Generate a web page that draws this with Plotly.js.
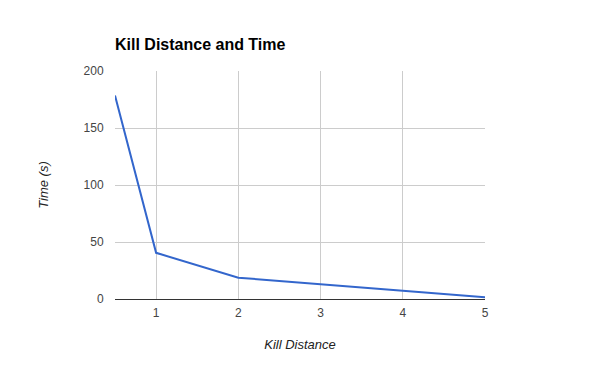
<!DOCTYPE html>
<html>
<head>
<meta charset="utf-8">
<script src="https://cdn.plot.ly/plotly-3.0.1.min.js"></script>
<style>html,body{margin:0;padding:0;background:#fff}#chart{width:600px;height:371px}</style>
</head>
<body>
<div id="chart"></div>
<script>
const killDistance = [0.5, 1, 2, 3, 4, 5];
const timeSeconds = [178.5, 40.5, 18.7, 13.2, 7.3, 1.5];
const xTicks = [1, 2, 3, 4, 5];
const yTicks = [0, 50, 100, 150, 200];

const trace = {
  x: killDistance,
  y: timeSeconds,
  type: 'scatter',
  mode: 'lines',
  line: {color: '#3366CC', width: 2},
  hoverinfo: 'none'
};

const layout = {
  width: 600, height: 371,
  margin: {l: 115, r: 115, t: 71, b: 72},
  paper_bgcolor: '#fff', plot_bgcolor: '#fff',
  showlegend: false,
  font: {family: 'Arial, "Liberation Sans", sans-serif', color: '#444', size: 12},
  title: {
    text: '<b>Kill Distance and Time</b>',
    font: {family: 'Arial, "Liberation Sans", sans-serif', size: 16, color: '#000'},
    x: 115/600, xanchor: 'left', xref: 'container',
    y: 1 - 44/371, yanchor: 'middle', yref: 'container'
  },
  xaxis: {
    range: [0.5, 5],
    tickvals: xTicks,
    ticktext: xTicks.map(String),
    showgrid: true, gridcolor: '#ccc', gridwidth: 1,
    zeroline: false, showline: false,
    ticks: 'outside', ticklen: 3, tickcolor: 'rgba(0,0,0,0)',
    tickfont: {size: 12, color: '#444'},
    title: {text: '<i>Kill Distance</i>', font: {size: 13, color: '#222'}, standoff: 20}
  },
  yaxis: {
    range: [0, 200],
    tickvals: yTicks,
    ticktext: yTicks.map(String),
    showgrid: true, gridcolor: '#ccc', gridwidth: 1,
    zeroline: true, zerolinecolor: '#333', zerolinewidth: 1,
    showline: false,
    ticks: 'outside', ticklen: 8, tickcolor: 'rgba(0,0,0,0)',
    tickfont: {size: 12, color: '#444'},
    title: {text: '<i>Time (s)</i>', font: {size: 13, color: '#222'}, standoff: 32}
  }
};

Plotly.newPlot('chart', [trace], layout, {displayModeBar: false, staticPlot: true});
</script>
</body>
</html>
